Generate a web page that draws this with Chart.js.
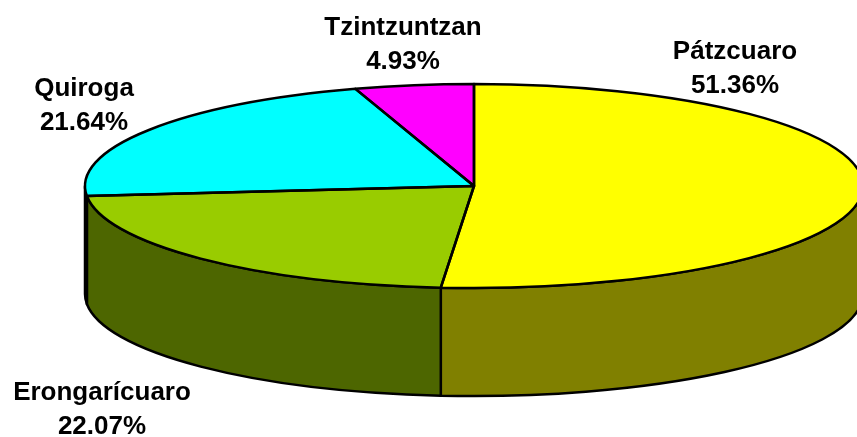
<!DOCTYPE html>
<html><head><meta charset="utf-8">
<style>html,body{margin:0;padding:0;background:#fff}#w{width:857px;height:437px;position:relative;overflow:hidden}</style>
<script src="https://cdn.jsdelivr.net/npm/chart.js@4"></script>
</head><body><div id="w"><canvas id="c" width="857" height="437"></canvas></div>
<script>
const categories = ["Pátzcuaro","Erongarícuaro","Quiroga","Tzintzuntzan"];
const shares = [51.36,22.07,21.64,4.93];
const shareLabels = ["51.36%","22.07%","21.64%","4.93%"];
const topColors = ["#FFFF00","#99CC00","#00FFFF","#FF00FF"];
const wallColors = ["#808000","#4D6600","#008080","#800080"];
const labelCenters = [[735,52],[102,393],[84,89],[403,28]];
const lineGap = 34;

const CX=474, CY=186, RX=389, RY=102, DEPTH=108, LINE=2.5;
const TAU=Math.PI*2;
function visibleWall(a0,a1){ // canvas angles; front half is 0..PI
  const lo=Math.max(a0,0), hi=Math.min(a1,Math.PI);
  return hi>lo?[lo,hi]:null;
}
const pie3d={
  id:'pie3d',
  beforeDatasetsDraw(chart){
    const ctx=chart.ctx, arcs=chart.getDatasetMeta(0).data;
    ctx.save();
    ctx.lineJoin='round';
    arcs.forEach((arc,i)=>{
      let a0=arc.startAngle, a1=arc.endAngle;
      const w=visibleWall(a0,a1)||visibleWall(a0+TAU,a1+TAU)||visibleWall(a0-TAU,a1-TAU);
      if(!w) return;
      ctx.beginPath();
      ctx.ellipse(CX,CY,RX,RY,0,w[0],w[1]);
      ctx.ellipse(CX,CY+DEPTH,RX,RY,0,w[1],w[0],true);
      ctx.closePath();
      ctx.fillStyle=wallColors[i];
      ctx.fill();
      ctx.lineWidth=LINE; ctx.strokeStyle='#000';
      ctx.stroke();
    });
    ctx.restore();
    const el=arcs[0], R=el.outerRadius;
    ctx.save();
    ctx.translate(CX,CY);
    ctx.scale(RX/R,RY/R);
    ctx.translate(-el.x,-el.y);
  },
  afterDatasetsDraw(chart){
    const ctx=chart.ctx, arcs=chart.getDatasetMeta(0).data;
    ctx.restore();
    ctx.save();
    ctx.lineJoin='round'; ctx.lineWidth=LINE; ctx.strokeStyle='#000';
    arcs.forEach(arc=>{
      ctx.beginPath();
      ctx.moveTo(CX,CY);
      ctx.ellipse(CX,CY,RX,RY,0,arc.startAngle,arc.endAngle);
      ctx.closePath();
      ctx.stroke();
    });
    ctx.fillStyle='#000';
    ctx.font='bold 26px "Liberation Sans", Arial, sans-serif';
    ctx.textAlign='center'; ctx.textBaseline='middle';
    categories.forEach((n,i)=>{
      const [x,y]=labelCenters[i];
      ctx.fillText(n,x,y);
      ctx.fillText(shareLabels[i],x,y+lineGap);
    });
    ctx.restore();
  }
};
new Chart(document.getElementById('c'),{
  type:'pie',
  data:{labels:categories,datasets:[{data:shares,backgroundColor:topColors,borderWidth:0,clip:false}]},
  options:{responsive:false,animation:false,rotation:0,
    layout:{padding:0},
    plugins:{legend:{display:false},tooltip:{enabled:false},title:{display:false}}},
  plugins:[pie3d]
});
</script></body></html>
